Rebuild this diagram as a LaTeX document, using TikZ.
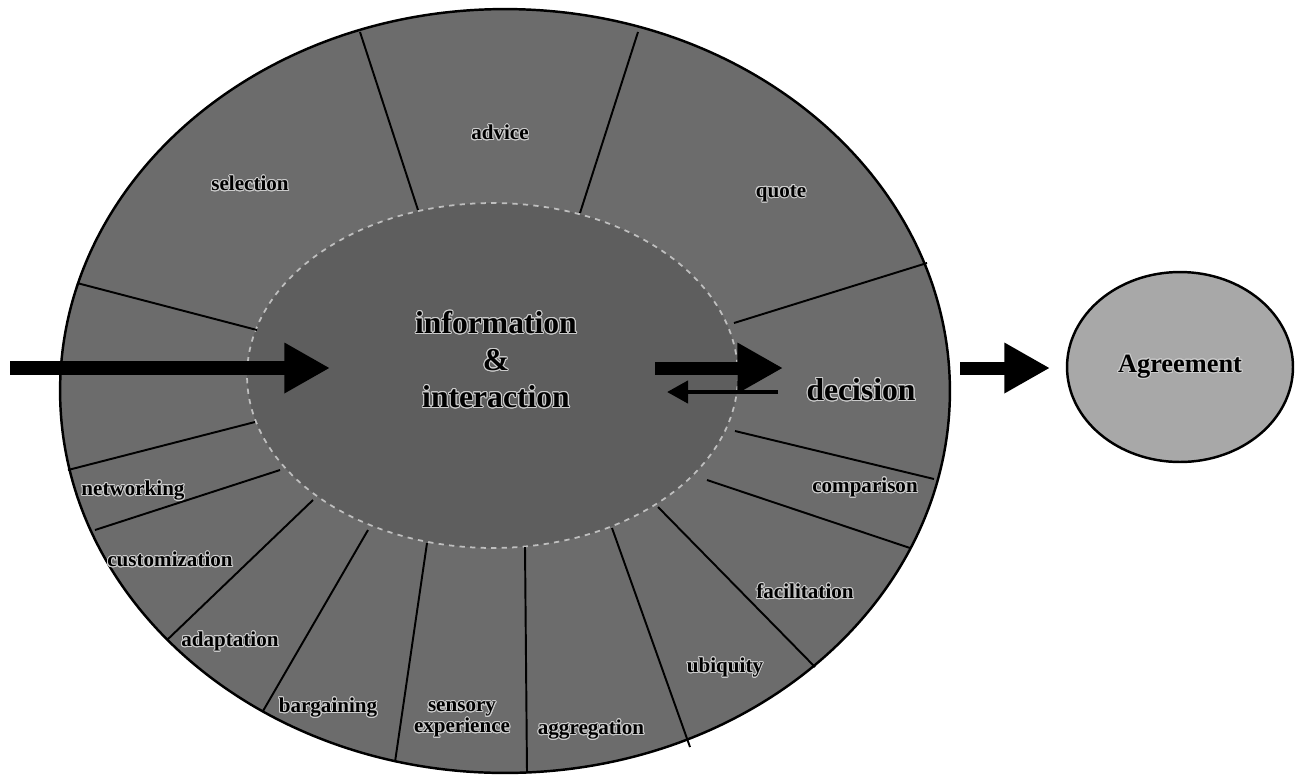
\documentclass[tikz,border=0pt]{standalone}
\usepackage{fontspec}
\setmainfont{Liberation Serif}
\usepackage{contour}
\contourlength{0.55pt}
\usetikzlibrary{arrows.meta, shapes.geometric}
\definecolor{ringgray}{RGB}{108,108,108}
\definecolor{coregray}{RGB}{94,94,94}
\definecolor{agreegray}{RGB}{168,168,168}
\newcommand{\halo}[1]{\contour{white!80!black}{#1}}

\begin{document}
\begin{tikzpicture}[x=0.02cm, y=-0.02cm,
  ring/.style={draw=black, line width=1.4pt, ellipse, inner sep=0pt},
  spoke/.style={black, line width=1.1pt},
  lbl/.style={font=\bfseries\fontsize{12}{13}\selectfont, inner sep=1pt, align=center},
  big/.style={font=\bfseries\fontsize{18}{21}\selectfont, inner sep=1pt, align=center},
  fat/.style={line width=#1, -{Triangle[length=26pt, width=27pt]}},
]
\useasboundingbox (0,0) rectangle (1300,775);

% rings
\node[ring, fill=ringgray, minimum width=17.8cm, minimum height=15.28cm] (outer) at (505,391) {};
\node[ring, fill=coregray, draw=white!75!black, dashed, line width=1pt,
      minimum width=9.82cm, minimum height=6.9cm] (inner) at (492.5,375.5) {};
\node[ring, fill=agreegray, minimum width=4.52cm, minimum height=3.8cm,
      font=\bfseries\fontsize{15}{17}\selectfont] (agree) at (1180,367) {\halo{Agreement}};

% spokes, inner ring to outer ring
\draw[spoke] (418,210) -- (360,32);
\draw[spoke] (580,213) -- (638,32);
\draw[spoke] (734,323) -- (927,263);
\draw[spoke] (735,431) -- (934,479);
\draw[spoke] (707,480) -- (910,548);
\draw[spoke] (658,507) -- (815,667);
\draw[spoke] (612,528) -- (690,747);
\draw[spoke] (525,547) -- (527,773);
\draw[spoke] (427,543) -- (395,762);
\draw[spoke] (368,530) -- (263,711);
\draw[spoke] (313,500) -- (167,640);
\draw[spoke] (280,470) -- (95,530);
\draw[spoke] (255,422) -- (68,470);
\draw[spoke] (257,330) -- (77,283);

% segment labels
\node[lbl] (selection) at (250,184) {\halo{selection}};
\node[lbl] (advice) at (500,133) {\halo{advice}};
\node[lbl] (quote) at (781,194) {\halo{quote}};
\node[big] (decision) at (861,390) {\halo{decision}};
\node[lbl] (comparison) at (865,488) {\halo{comparison}};
\node[lbl] (facilitation) at (805,592) {\halo{facilitation}};
\node[lbl] (ubiquity) at (725,668) {\halo{ubiquity}};
\node[lbl] (aggregation) at (591,730) {\halo{aggregation}};
\node[lbl] (sensory) at (462,720) {\halo{sensory}\\[-1pt]\halo{experience}};
\node[lbl] (bargaining) at (328,708) {\halo{bargaining}};
\node[lbl] (adaptation) at (230,642) {\halo{adaptation}};
\node[lbl] (customization) at (170,560) {\halo{customization}};
\node[lbl] (networking) at (133,491) {\halo{networking}};
\node[big] (info) at (496,360) {\halo{information}\\\halo{\&}\\\halo{interaction}};

% arrows
\coordinate (enter) at (10,368);
\coordinate (enterTip) at (330,368);
\coordinate (outStart) at (655,368);
\coordinate (outTip) at (783,368);
\coordinate (backStart) at (778,392);
\coordinate (backTip) at (667,392);
\coordinate (agreeStart) at (960,368);
\coordinate (agreeTip) at (1050,368);
\draw[fat=7.8pt] (enter) -- (enterTip);
\draw[fat=7.4pt] (outStart) -- (outTip);
\draw[line width=2.6pt, -{Triangle[length=12pt, width=12.5pt]}] (backStart) -- (backTip);
\draw[fat=7.4pt] (agreeStart) -- (agreeTip);
\end{tikzpicture}
\end{document}
